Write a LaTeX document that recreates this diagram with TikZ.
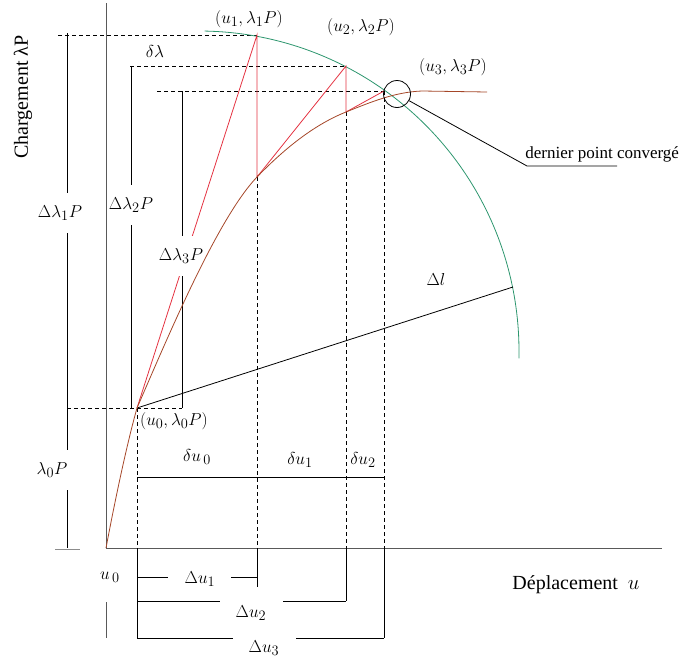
\documentclass[tikz,border=0pt]{standalone}
\usepackage{fontspec}
\setmainfont{Liberation Serif}
\usetikzlibrary{calc, positioning}

\begin{document}
\begin{tikzpicture}[x=1pt,y=-1pt,line width=0.8pt,
    guide/.style={black, dash pattern=on 4pt off 3pt},
    axisline/.style={black!65},
    lbl/.style={font=\fontsize{19}{21}\selectfont, inner sep=1pt},
    gaplbl/.style={lbl, fill=white, inner xsep=1pt, inner ysep=12pt},
    txt/.style={font=\fontsize{20}{22}\selectfont, inner sep=1pt}]
\definecolor{pathbrown}{RGB}{165,70,40}
\definecolor{predred}{RGB}{228,50,65}
\definecolor{arcgreen}{RGB}{45,150,110}
\def\rad{320}

\useasboundingbox (0,0) rectangle (682,664);

\coordinate (O) at (106,548);
\coordinate (U0) at (137,408);
\coordinate (U1) at (257,35);
\coordinate (U2) at (346,66);
\coordinate (U3) at (384,91);
\coordinate (C1) at (257,177);
\coordinate (C2) at (346,112);
\coordinate (ctr) at (199,351);
\coordinate (L) at (513,287);

% axes
\draw[axisline] (106,3) -- (O) -- (662,548);
\draw[axisline] (106,602) -- (106,638);

% dashed guides
\draw[guide] (58,35) -- (U1);
\draw[guide] (130,66) -- (U2);
\draw[guide] (157,91) -- (U3);
\draw[guide] (67,408) -- (182,408);
\foreach \p in {U0,C1,C2,U3}
    \draw[guide] (\p) -- (\p |- O);

% load increments
\draw (67,33) -- (67,548);
\draw[black!45] (55,549) -- (80,549);
\draw (131,66) -- (131,408);
\draw (182,91) -- (182,408);

% displacement increments
\draw (U0 |- O) -- (137,638);
\draw (C1 |- O) -- (257,587);
\draw (C2 |- O) -- (346,601);
\draw (U3 |- O) -- (384,638);
\draw (137,577) -- (168,577);
\draw (231,577) -- (257,577);
\draw (137,601) -- (220,601);
\draw (283,601) -- (346,601);
\draw (137,638) -- (233,638);
\draw (296,638) -- (384,638);
\draw (137,477) -- (384,477);

% constraint arc and radius
\draw[arcgreen] plot[domain=-89:1.3, samples=90]
    ({199+\rad*cos(\x)},{351+\rad*sin(\x)});
\draw (U0) -- (L);

% iterations
\draw[predred] (U0) -- (U1) -- (C1) -- (U2) -- (C2) -- (U3);

\node[gaplbl] (dl1) at (60,213) {$\Delta\lambda_1 P$};
\node[gaplbl] (dl2) at (131,205) {$\Delta\lambda_2 P$};
\node[gaplbl] (dl3) at (181,256) {$\Delta\lambda_3 P$};
\node[gaplbl] (l0) at (52,470) {$\lambda_0 P$};

% equilibrium path
\draw[pathbrown] (O) .. controls (117,490) and (128,440) .. (U0)
    .. controls (167,339) and (217,219) .. (C1)
    .. controls (287,146) and (316,124) .. (C2)
    .. controls (371,102) and (395,92) .. (422,91) -- (487,92);

\node[txt, rotate=90] (ylab) at (23,97) {Chargement λP};
\node[txt] (xlab) at (576,585) {Déplacement\ \ $u$};
\node[lbl] (p1) at (249,19) {$(u_1,\lambda_1 P)$};
\node[lbl] (p2) at (361,27) {$(u_2,\lambda_2 P)$};
\node[lbl] (p3) at (453,67) {$(u_3,\lambda_3 P)$};
\node[lbl] (p0) at (174,421) {$(u_0,\lambda_0 P)$};
\node[lbl] (dlam) at (155,51) {$\delta\lambda$};
\node[lbl] (dlen) at (436,279) {$\Delta l$};
\node[lbl] (du0) at (197,457) {$\delta u_{\,0}$};
\node[lbl] (du1) at (300,460) {$\delta u_1$};
\node[lbl] (du2) at (363,460) {$\delta u_2$};
\node[lbl] (u0) at (110,577) {$u_{\,0}$};
\node[lbl] (Du1) at (200,579) {$\Delta u_1$};
\node[lbl] (Du2) at (251,613) {$\Delta u_2$};
\node[lbl] (Du3) at (264,648) {$\Delta u_3$};

% last converged point
\node[draw, circle, minimum size=27pt, inner sep=0pt] (conv) at (397,94) {};
\coordinate (knee) at (527,166);
\draw (conv) -- (knee) -- ++(90,0);
\node[font=\fontsize{17}{19}\selectfont, anchor=south west, inner sep=1pt]
    (note) at (524,164) {dernier point convergé};
\end{tikzpicture}
\end{document}
